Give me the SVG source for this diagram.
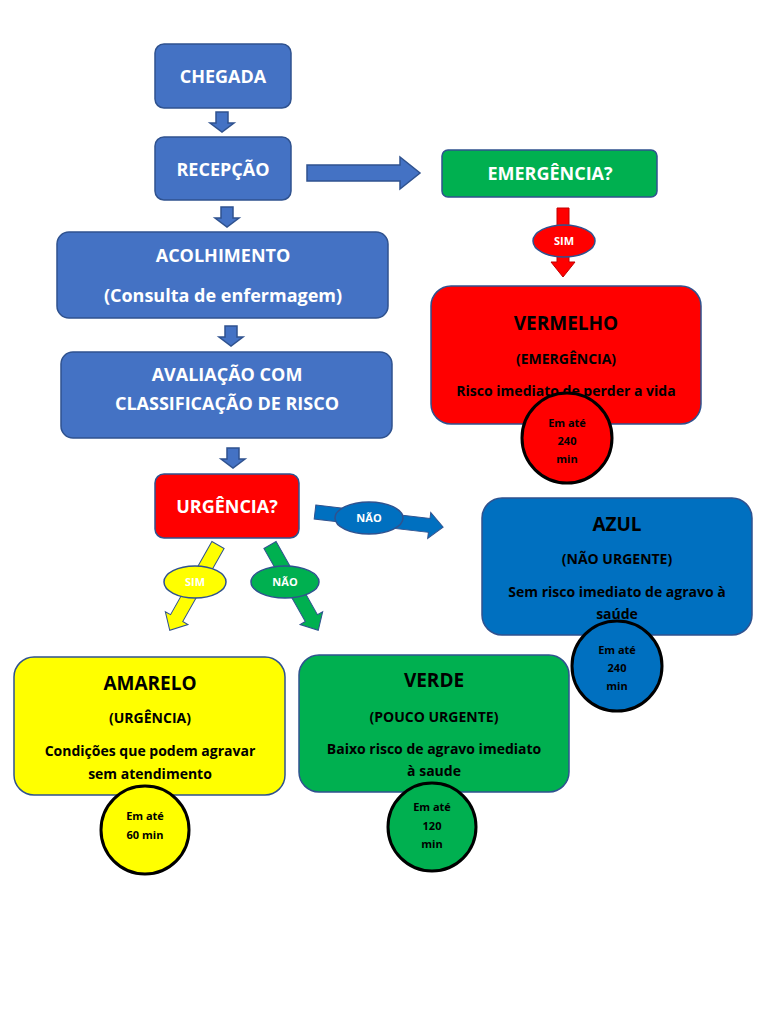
<svg xmlns="http://www.w3.org/2000/svg" width="768" height="1024" viewBox="0 0 768 1024">
<style>
text{font-family:"Open Sans","Liberation Sans",sans-serif;font-weight:bold;text-anchor:middle}
.bl{fill:#4472c4;stroke:#2f528f;stroke-width:1.5}
.w{fill:#fff;font-size:18px}
.k{fill:#000}
.c{stroke:#000;stroke-width:3}
.s{font-size:11px}
</style>
<rect width="768" height="1024" fill="#fff"/>
<g id="connectors">
<polygon class="bl" transform="translate(222,112) rotate(90)" points="0,-6 11,-6 11,-12 20,0 11,12 11,6 0,6"/>
<polygon class="bl" transform="translate(227,207) rotate(90)" points="0,-6 11,-6 11,-12 20,0 11,12 11,6 0,6"/>
<polygon class="bl" transform="translate(231,326) rotate(90)" points="0,-6 11,-6 11,-12 20,0 11,12 11,6 0,6"/>
<polygon class="bl" transform="translate(233,448) rotate(90)" points="0,-6 11,-6 11,-12 20,0 11,12 11,6 0,6"/>
<polygon class="bl" transform="translate(307,173)" points="0,-8 93,-8 93,-16 113,0 93,16 93,8 0,8"/>
<polygon fill="#ff0000" stroke="#c00000" transform="translate(563,208) rotate(90)" points="0,-6 54,-6 54,-12 69,0 54,12 54,6 0,6"/>
<g><ellipse cx="564" cy="241" rx="31" ry="16" fill="#ff0000" stroke="#2f528f" stroke-width="1.5"/><text x="564" y="245" class="s" fill="#fff">SIM</text></g>
<polygon fill="#0070c0" stroke="#2f528f" transform="translate(315,512) rotate(6.7)" points="0,-7 115,-7 115,-13 129,0 115,13 115,7 0,7"/>
<g><ellipse cx="369" cy="518" rx="34" ry="16" fill="#0070c0" stroke="#2f528f" stroke-width="1.5"/><text x="369" y="522" class="s" fill="#fff">NÃO</text></g>
<polygon fill="#ffff00" stroke="#2f528f" transform="translate(218,545) rotate(119.5)" points="0,-7 84,-7 84,-13 98,0 84,13 84,7 0,7"/>
<g><ellipse cx="195" cy="582" rx="31" ry="16" fill="#ffff00" stroke="#2f528f" stroke-width="1.5"/><text x="195" y="586" class="s" fill="#fff">SIM</text></g>
<polygon fill="#00b050" stroke="#2f528f" transform="translate(270,545) rotate(60.5)" points="0,-7 84,-7 84,-13 98,0 84,13 84,7 0,7"/>
<g><ellipse cx="285" cy="582" rx="34" ry="16" fill="#00b050" stroke="#2f528f" stroke-width="1.5"/><text x="285" y="586" class="s" fill="#fff">NÃO</text></g>
</g>
<g id="chegada"><rect class="bl" x="155" y="44" width="136" height="64" rx="9"/><text class="w" x="223" y="83">CHEGADA</text></g>
<g id="recepcao"><rect class="bl" x="155" y="137" width="136" height="63" rx="9"/><text class="w" x="223" y="176">RECEPÇÃO</text></g>
<g id="emergencia"><rect x="442" y="150" width="215" height="47" rx="6" fill="#00b050" stroke="#2f528f" stroke-width="1.5"/><text class="w" x="550" y="180">EMERGÊNCIA?</text></g>
<g id="acolhimento"><rect class="bl" x="57" y="232" width="331" height="86" rx="12"/><text class="w" x="223" y="262">ACOLHIMENTO</text><text class="w" x="223" y="302">(Consulta de enfermagem)</text></g>
<g id="avaliacao"><rect class="bl" x="61" y="352" width="331" height="86" rx="12"/><text class="w" x="227" y="381">AVALIAÇÃO COM</text><text class="w" x="227" y="410">CLASSIFICAÇÃO DE RISCO</text></g>
<g id="urgencia"><rect x="155" y="474" width="144" height="64" rx="9" fill="#ff0000" stroke="#2f528f" stroke-width="1.5"/><text class="w" x="227" y="513">URGÊNCIA?</text></g>
<g id="vermelho"><rect x="431" y="286" width="270" height="138" rx="20" fill="#ff0000" stroke="#2f528f" stroke-width="1.5"/>
<text class="k" x="566" y="330" font-size="19">VERMELHO</text><text class="k" x="566" y="364" font-size="14">(EMERGÊNCIA)</text><text class="k" x="566" y="396" font-size="14">Risco imediato de perder a vida</text>
<circle class="c" cx="567" cy="438" r="45" fill="#ff0000"/><text class="k s" x="567" y="427">Em até</text><text class="k s" x="567" y="445">240</text><text class="k s" x="567" y="463">min</text></g>
<g id="azul"><rect x="482" y="498" width="270" height="137" rx="20" fill="#0070c0" stroke="#2f528f" stroke-width="1.5"/>
<text class="k" x="617" y="531" font-size="19">AZUL</text><text class="k" x="617" y="564" font-size="14">(NÃO URGENTE)</text><text class="k" x="617" y="597" font-size="14">Sem risco imediato de agravo à</text><text class="k" x="617" y="619" font-size="14">saúde</text>
<circle class="c" cx="617" cy="666" r="45" fill="#0070c0"/><text class="k s" x="617" y="654">Em até</text><text class="k s" x="617" y="672">240</text><text class="k s" x="617" y="690">min</text></g>
<g id="amarelo"><rect x="14" y="657" width="271" height="138" rx="20" fill="#ffff00" stroke="#2f528f" stroke-width="1.5"/>
<text class="k" x="150" y="690" font-size="19">AMARELO</text><text class="k" x="150" y="723" font-size="14">(URGÊNCIA)</text><text class="k" x="150" y="756" font-size="14">Condições que podem agravar</text><text class="k" x="150" y="779" font-size="14">sem atendimento</text>
<circle class="c" cx="145" cy="830" r="44" fill="#ffff00"/><text class="k s" x="145" y="820">Em até</text><text class="k s" x="145" y="839">60 min</text></g>
<g id="verde"><rect x="299" y="655" width="270" height="137" rx="20" fill="#00b050" stroke="#2f528f" stroke-width="1.5"/>
<text class="k" x="434" y="687" font-size="19">VERDE</text><text class="k" x="434" y="722" font-size="14">(POUCO URGENTE)</text><text class="k" x="434" y="754" font-size="14">Baixo risco de agravo imediato</text><text class="k" x="434" y="776" font-size="14">à saude</text>
<circle class="c" cx="432" cy="827" r="44" fill="#00b050"/><text class="k s" x="432" y="811">Em até</text><text class="k s" x="432" y="830">120</text><text class="k s" x="432" y="848">min</text></g>
</svg>
